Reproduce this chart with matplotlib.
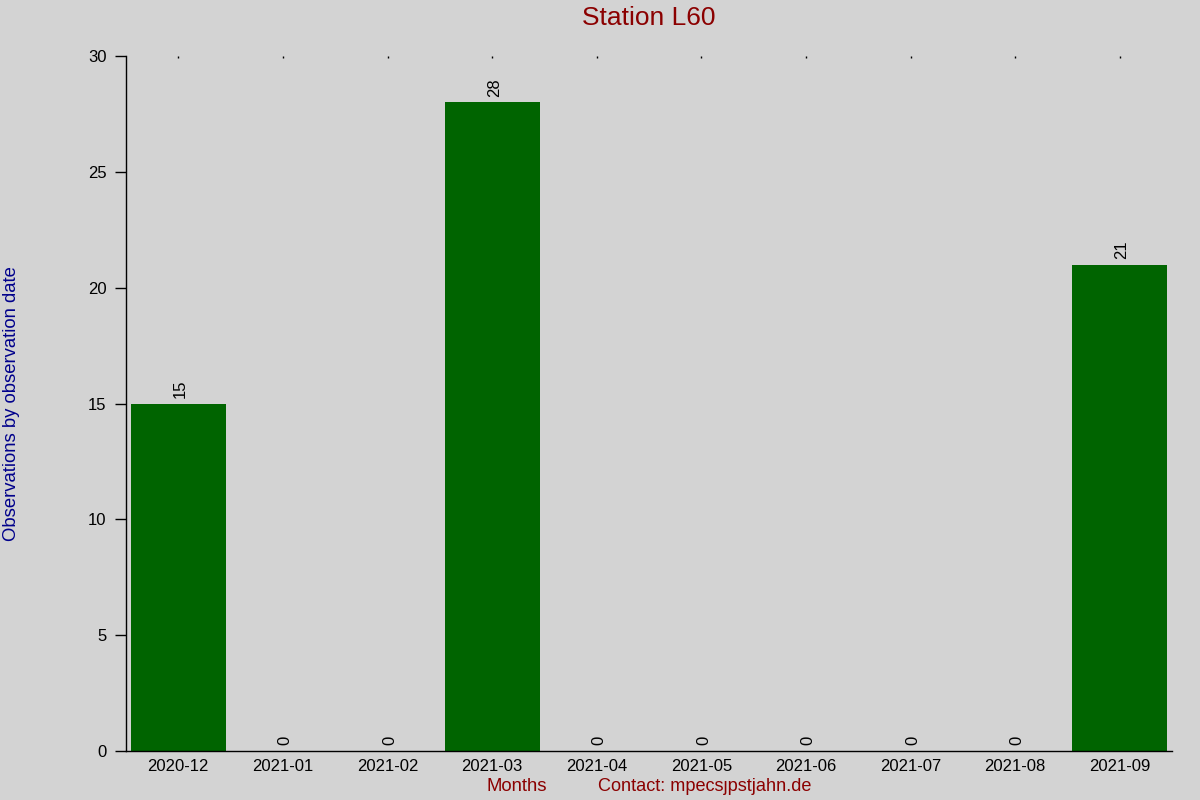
import matplotlib
matplotlib.use('Agg')
import matplotlib.pyplot as plt

months = ['2020-12', '2021-01', '2021-02', '2021-03', '2021-04',
          '2021-05', '2021-06', '2021-07', '2021-08', '2021-09']
counts = [15, 0, 0, 28, 0, 0, 0, 0, 0, 21]
yticks = [0, 5, 10, 15, 20, 25, 30]

plt.rcParams['font.family'] = ['Liberation Sans', 'DejaVu Sans']

bg = '#d3d3d3'
fig = plt.figure(figsize=(12, 8), dpi=100, facecolor=bg)
ax = fig.add_axes([0.105, 0.06125, 0.8717, 0.86875], facecolor=bg)

x = list(range(len(months)))
ax.bar(x, counts, width=0.91, color='#006400')

# value labels above bars
for xi, c in zip(x, counts):
    ax.annotate(str(c), (xi, c), xytext=(1.5, 4), textcoords='offset points',
                rotation=90, ha='center', va='bottom', fontsize=12, color='black')

ax.set_xlim(-0.5, len(months) - 0.5)
ax.set_ylim(0, 30)
ax.set_xticks(x)
ax.set_xticklabels(months, fontsize=12)
ax.set_yticks(yticks)
ax.set_yticklabels([str(v) for v in yticks], fontsize=12)

ax.tick_params(axis='y', direction='out', length=8, width=1, pad=6)
ax.tick_params(axis='x', bottom=False, top=True, direction='in', length=1.2, width=1, pad=6)

for s in ['top', 'right']:
    ax.spines[s].set_visible(False)
ax.spines['left'].set_linewidth(1)
ax.spines['bottom'].set_linewidth(1)

fig.text(0.5408, 0.977, 'Station L60', ha='center', va='center',
         color='#8b0000', fontsize=19)
fig.text(0.0095, 0.496, 'Observations by observation date', rotation=90,
         ha='center', va='center', color='#00008b', fontsize=13.3)
fig.text(0.431, 0.017, 'Months', ha='center', va='center', color='#8b0000', fontsize=13.3)
fig.text(0.587, 0.017, 'Contact: mpecs\u0237pstjahn.de', ha='center', va='center',
         color='#8b0000', fontsize=13.1)

fig.savefig('out.png', dpi=100, facecolor=bg)
